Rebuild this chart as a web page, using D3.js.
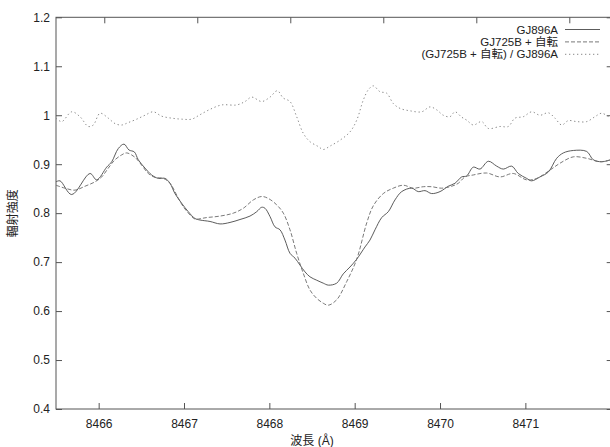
<!DOCTYPE html>
<html>
<head>
<meta charset="utf-8">
<script src="https://cdn.jsdelivr.net/npm/d3@7"></script>
<style>
  body { margin: 0; background: #fff; }
  text { font-family: "Liberation Sans", Arial, "Noto Sans CJK JP", sans-serif; fill: #222; }
</style>
</head>
<body>
<div class="spectrum"></div>
<script>
// wavelength (A), value pairs
var gj896a = [
  [8465.50, 0.864], [8465.547, 0.866], [8465.684, 0.838], [8465.898, 0.881], [8465.977, 0.868],
  [8466.094, 0.894], [8466.153, 0.905], [8466.230, 0.932], [8466.297, 0.941], [8466.355, 0.929],
  [8466.418, 0.925], [8466.464, 0.909], [8466.543, 0.892], [8466.621, 0.878], [8466.699, 0.871],
  [8466.777, 0.871], [8466.836, 0.861], [8466.894, 0.840], [8466.973, 0.820], [8467.050, 0.803],
  [8467.129, 0.789], [8467.187, 0.786], [8467.305, 0.783], [8467.422, 0.778], [8467.539, 0.781],
  [8467.656, 0.787], [8467.773, 0.794], [8467.852, 0.803], [8467.910, 0.812], [8467.949, 0.810],
  [8468.008, 0.793], [8468.066, 0.772], [8468.125, 0.766], [8468.183, 0.745], [8468.242, 0.718],
  [8468.301, 0.708], [8468.359, 0.694], [8468.418, 0.680], [8468.476, 0.670], [8468.555, 0.663],
  [8468.632, 0.657], [8468.691, 0.653], [8468.789, 0.657], [8468.866, 0.676], [8468.945, 0.690],
  [8469.024, 0.706], [8469.121, 0.731], [8469.179, 0.745], [8469.238, 0.766], [8469.317, 0.791],
  [8469.394, 0.803], [8469.472, 0.827], [8469.551, 0.844], [8469.668, 0.851], [8469.745, 0.844],
  [8469.824, 0.846], [8469.902, 0.840], [8470.000, 0.844], [8470.097, 0.855], [8470.175, 0.861],
  [8470.254, 0.874], [8470.312, 0.876], [8470.390, 0.894], [8470.468, 0.890], [8470.566, 0.906],
  [8470.664, 0.896], [8470.741, 0.890], [8470.840, 0.896], [8470.917, 0.881], [8471.015, 0.871],
  [8471.074, 0.866], [8471.171, 0.874], [8471.269, 0.884], [8471.367, 0.912], [8471.445, 0.923],
  [8471.562, 0.928], [8471.719, 0.926], [8471.796, 0.909], [8471.894, 0.905], [8472.000, 0.909]
];

var gj725bRot = [
  [8465.50, 0.857], [8465.605, 0.851], [8465.723, 0.847], [8465.840, 0.855], [8465.957, 0.864],
  [8466.036, 0.874], [8466.113, 0.892], [8466.191, 0.909], [8466.270, 0.919], [8466.328, 0.923],
  [8466.426, 0.914], [8466.504, 0.898], [8466.582, 0.881], [8466.660, 0.873], [8466.757, 0.871],
  [8466.836, 0.861], [8466.914, 0.837], [8466.992, 0.813], [8467.090, 0.793], [8467.129, 0.788],
  [8467.266, 0.791], [8467.422, 0.794], [8467.578, 0.800], [8467.695, 0.810], [8467.812, 0.827],
  [8467.910, 0.834], [8467.988, 0.830], [8468.086, 0.817], [8468.164, 0.800], [8468.242, 0.766],
  [8468.320, 0.718], [8468.398, 0.677], [8468.476, 0.643], [8468.555, 0.626], [8468.632, 0.616],
  [8468.691, 0.612], [8468.789, 0.623], [8468.906, 0.660], [8469.024, 0.706], [8469.141, 0.780],
  [8469.218, 0.815], [8469.335, 0.840], [8469.452, 0.851], [8469.570, 0.857], [8469.687, 0.851],
  [8469.804, 0.854], [8469.902, 0.854], [8470.019, 0.851], [8470.137, 0.855], [8470.214, 0.861],
  [8470.293, 0.874], [8470.390, 0.878], [8470.547, 0.882], [8470.703, 0.874], [8470.859, 0.881],
  [8471.015, 0.868], [8471.133, 0.871], [8471.289, 0.888], [8471.406, 0.902], [8471.562, 0.915],
  [8471.719, 0.912], [8471.875, 0.905], [8472.000, 0.909]
];

var ratio = [
  [8465.50, 0.994], [8465.567, 0.987], [8465.684, 1.007], [8465.781, 0.997], [8465.878, 0.977],
  [8465.937, 0.980], [8466.016, 1.004], [8466.113, 0.994], [8466.191, 0.983], [8466.270, 0.980],
  [8466.347, 0.985], [8466.446, 0.992], [8466.543, 1.000], [8466.640, 1.007], [8466.739, 0.998],
  [8466.856, 0.994], [8466.973, 0.992], [8467.090, 0.992], [8467.187, 1.001], [8467.305, 1.012],
  [8467.442, 1.021], [8467.617, 1.021], [8467.715, 1.028], [8467.793, 1.037], [8467.910, 1.028],
  [8468.008, 1.037], [8468.093, 1.050], [8468.164, 1.035], [8468.242, 1.028], [8468.320, 0.997],
  [8468.398, 0.963], [8468.476, 0.946], [8468.574, 0.936], [8468.632, 0.930], [8468.711, 0.937],
  [8468.828, 0.949], [8468.945, 0.966], [8469.024, 0.990], [8469.101, 1.031], [8469.160, 1.052],
  [8469.218, 1.060], [8469.297, 1.048], [8469.375, 1.045], [8469.452, 1.024], [8469.531, 1.014],
  [8469.648, 1.009], [8469.785, 1.007], [8469.882, 1.017], [8469.961, 1.011], [8470.038, 1.000],
  [8470.117, 0.997], [8470.175, 1.007], [8470.254, 0.996], [8470.312, 0.990], [8470.390, 0.980],
  [8470.488, 0.987], [8470.566, 0.973], [8470.703, 0.977], [8470.800, 0.977], [8470.878, 0.994],
  [8470.976, 0.997], [8471.074, 1.007], [8471.171, 1.000], [8471.269, 1.005], [8471.347, 0.994],
  [8471.426, 0.980], [8471.503, 0.989], [8471.601, 0.987], [8471.719, 0.987], [8471.816, 0.997],
  [8471.894, 1.004], [8472.000, 0.994]
];

var seriesNames = ["GJ896A", "GJ725B + 自転", "(GJ725B + 自転) / GJ896A"];
var xTicks = [8466, 8467, 8468, 8469, 8470, 8471];
var yTicks = [0.4, 0.5, 0.6, 0.7, 0.8, 0.9, 1, 1.1, 1.2];
var topTicks = [0, 1, 2, 3, 4, 5];   // unlabelled x2 axis on top

var margin = { top: 17.3, right: -0.7, bottom: 38, left: 56 },
    width = 610 - margin.left - margin.right,
    height = 447 - margin.top - margin.bottom;

var svg = d3.select(".spectrum").append("svg")
    .attr("width", 610)
    .attr("height", 447);

var chart = svg.append("g")
    .attr("transform", "translate(" + margin.left + "," + margin.top + ")");

var x = d3.scaleLinear().domain([8465.5, 8472]).range([0, width]);
var y = d3.scaleLinear().domain([0.4, 1.2]).range([height, 0]);
var x2 = d3.scaleLinear().domain([-0.519, 5.445]).range([0, width]);

var axisColor = "#555";

// frame
chart.append("rect")
    .attr("width", width)
    .attr("height", height)
    .attr("fill", "none")
    .attr("stroke", axisColor)
    .attr("stroke-width", 1);

// bottom axis, ticks pointing inward
var xAxis = d3.axisBottom(x).tickValues(xTicks).tickSizeInner(-6).tickSizeOuter(0).tickPadding(10).tickFormat(d3.format("d"));
chart.append("g")
    .attr("class", "x axis")
    .attr("transform", "translate(0," + height + ")")
    .call(xAxis);

var yAxis = d3.axisLeft(y).tickValues(yTicks).tickSizeInner(-6).tickSizeOuter(0).tickPadding(6).tickFormat(function(d) { return d3.format("")(+d.toFixed(1)); });
chart.append("g")
    .attr("class", "y axis")
    .call(yAxis);

// mirrored ticks on top and right
chart.append("g")
    .attr("class", "x2 axis")
    .call(d3.axisTop(x2).tickValues(topTicks).tickSizeInner(-6).tickSizeOuter(0).tickFormat(""));
chart.append("g")
    .attr("class", "y2 axis")
    .attr("transform", "translate(" + width + ",0)")
    .call(d3.axisRight(y).tickValues(yTicks).tickSizeInner(-4).tickSizeOuter(0).tickFormat(""));

chart.selectAll(".axis path").remove();
chart.selectAll(".axis line").attr("stroke", axisColor);
chart.selectAll(".axis text")
    .style("font-size", "12px")
    .attr("fill", "#222");

// axis titles
svg.append("text")
    .attr("x", margin.left + x(8468.5))
    .attr("y", 445)
    .attr("text-anchor", "middle")
    .style("font-size", "12px")
    .text("波長 (Å)");

svg.append("text")
    .attr("transform", "translate(17," + (margin.top + height / 2) + ") rotate(-90)")
    .attr("text-anchor", "middle")
    .style("font-size", "12px")
    .text("輻射強度");

// curves
var line = d3.line()
    .x(function(d) { return x(d[0]); })
    .y(function(d) { return y(d[1]); })
    .curve(d3.curveCatmullRom.alpha(0.5));

var styles = [
    { data: gj896a, color: "#4a4a4a", dash: null },
    { data: gj725bRot, color: "#6a6a6a", dash: "4,2" },
    { data: ratio, color: "#7a7a7a", dash: "1.3,2.7" }
];

chart.append("clipPath").attr("id", "plotclip")
    .append("rect").attr("width", width).attr("height", height);

chart.selectAll(".curve")
    .data(styles)
    .enter().append("path")
    .attr("class", "curve")
    .attr("clip-path", "url(#plotclip)")
    .attr("d", function(d) { return line(d.data); })
    .attr("fill", "none")
    .attr("stroke", function(d) { return d.color; })
    .attr("stroke-width", 0.9)
    .attr("stroke-dasharray", function(d) { return d.dash; });

// legend
var legend = svg.selectAll(".legend")
    .data(seriesNames)
    .enter().append("g")
    .attr("class", "legend")
    .attr("transform", function(d, i) { return "translate(0," + (29.5 + i * 12.4) + ")"; });

legend.append("text")
    .attr("x", 558)
    .attr("dy", ".35em")
    .attr("text-anchor", "end")
    .style("font-size", "11.5px")
    .text(function(d) { return d; });

legend.append("line")
    .attr("x1", 565)
    .attr("x2", 600)
    .attr("stroke", function(d, i) { return styles[i].color; })
    .attr("stroke-width", 0.9)
    .attr("stroke-dasharray", function(d, i) { return styles[i].dash; });
</script>
</body>
</html>
